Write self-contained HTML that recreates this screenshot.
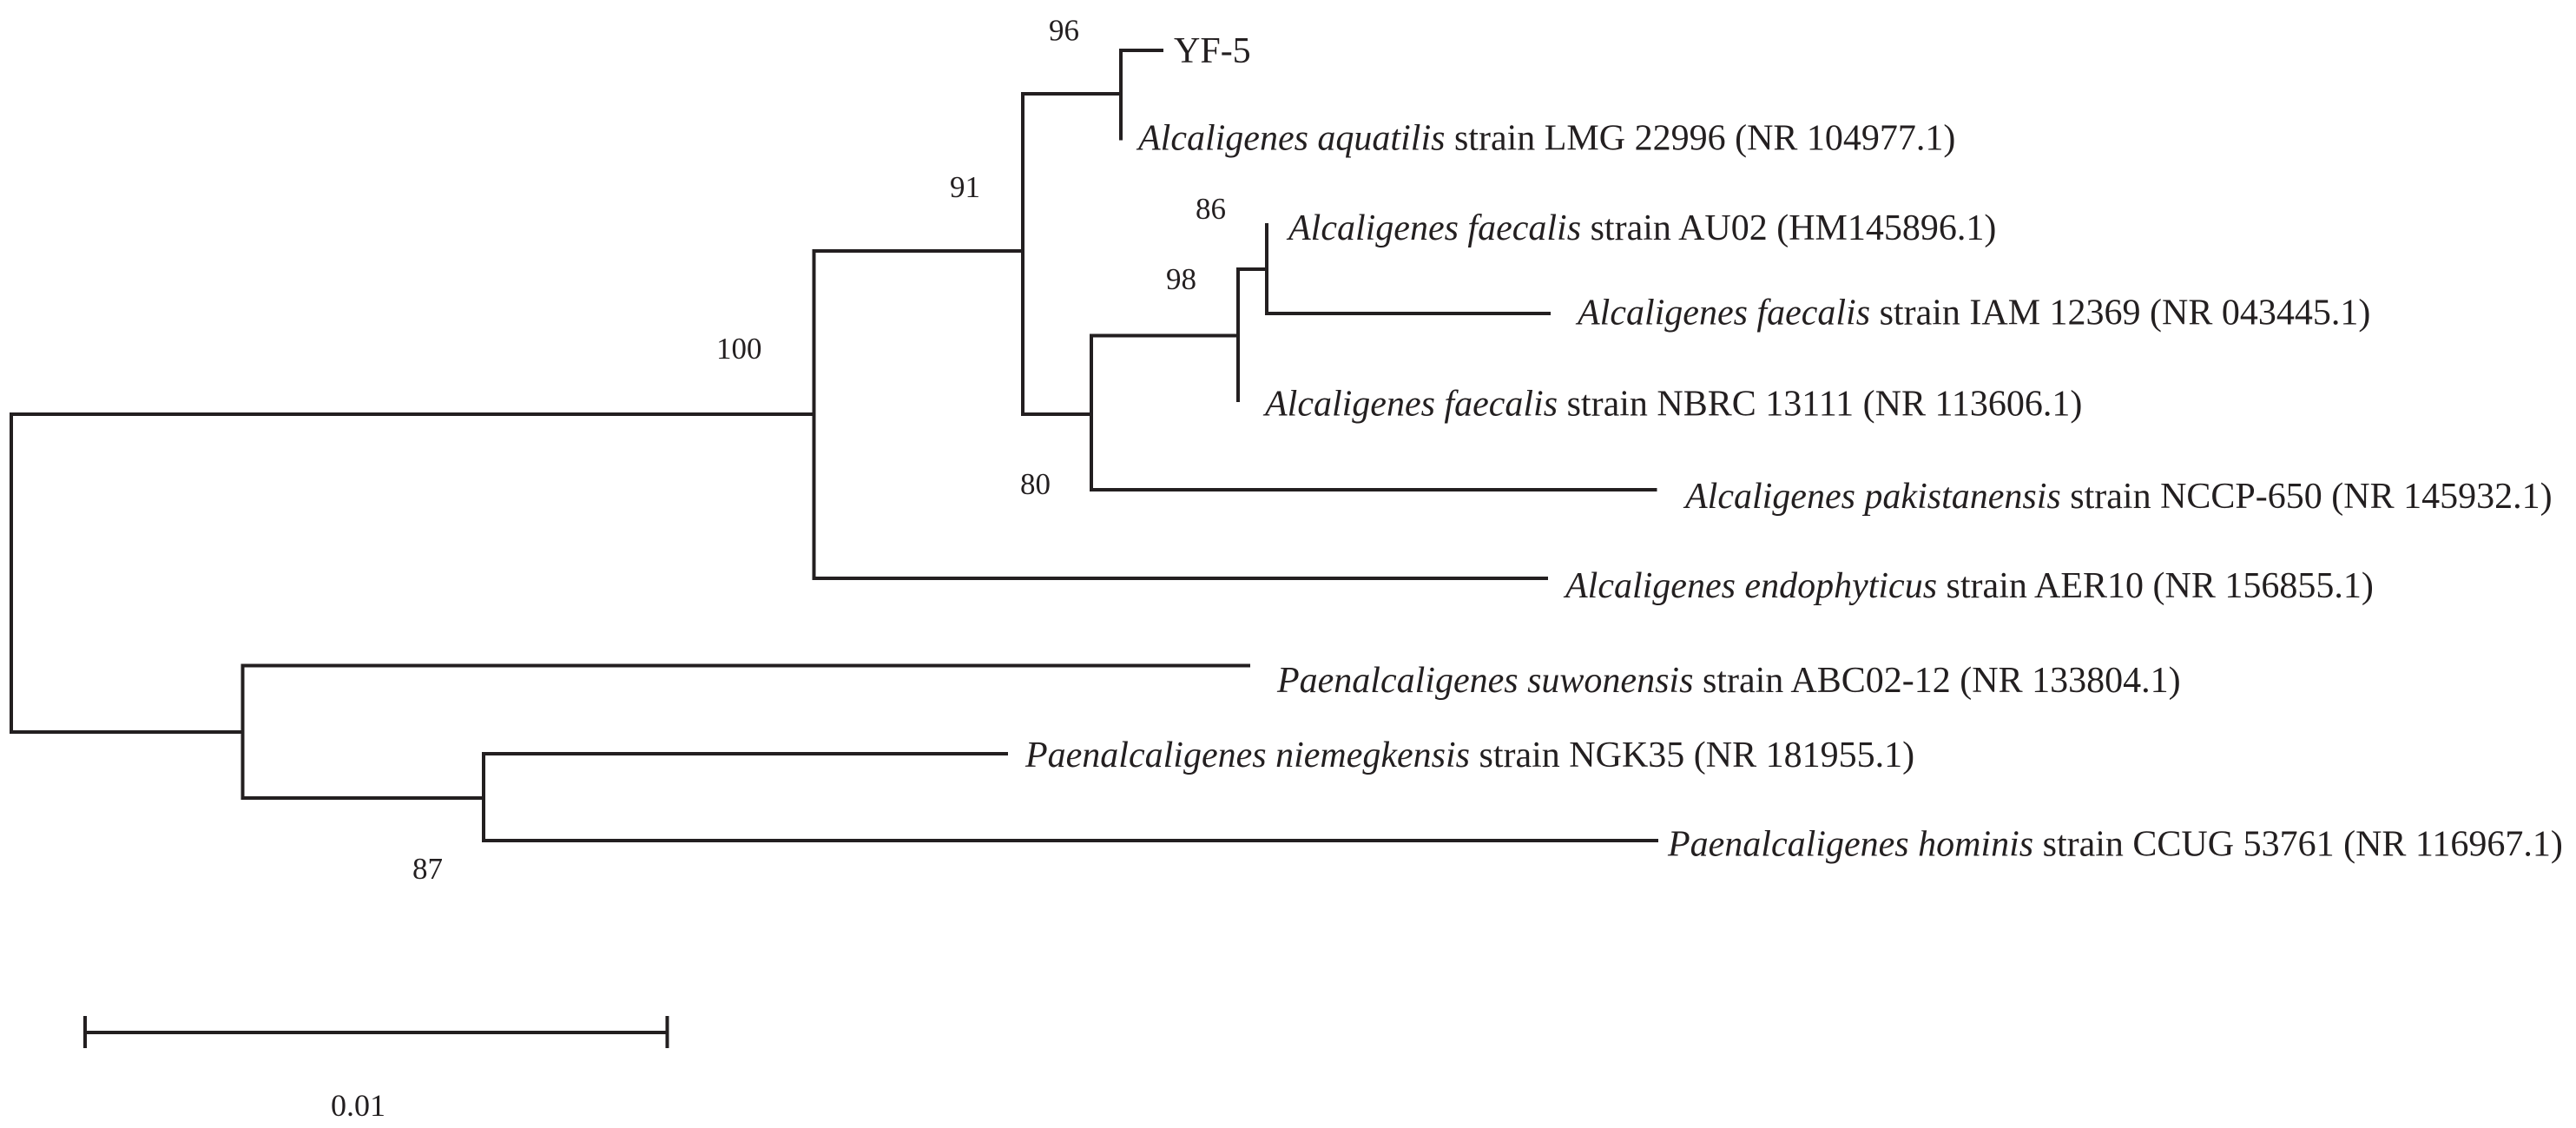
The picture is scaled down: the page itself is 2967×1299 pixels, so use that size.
<!DOCTYPE html>
<html>
<head>
<meta charset="utf-8">
<style>
  html, body { margin: 0; padding: 0; background: #ffffff; }
  body { width: 2967px; height: 1299px; overflow: hidden; }
  svg { display: block; }
  text { font-family: "Liberation Serif", "Times New Roman", serif; fill: #231f20; }
  .leaf { font-size: 42px; }
  .boot { font-size: 35px; }
  .it { font-style: italic; }
</style>
</head>
<body>
<svg width="2967" height="1299" viewBox="0 0 2967 1299" xmlns="http://www.w3.org/2000/svg">
  <g fill="none" stroke="#231f20" stroke-width="4" stroke-linejoin="miter" stroke-linecap="butt">
    <!-- root -->
    <polyline points="937.5,477 13,477 13,843 279.5,843"/>
    <!-- node 100 -->
    <polyline points="1178,289 937.5,289 937.5,666 1783,666"/>
    <!-- node 91 -->
    <polyline points="1291,108 1178,108 1178,477 1257,477"/>
    <!-- node 96 -->
    <polyline points="1340,58 1291,58 1291,161.5"/>
    <!-- node 80 -->
    <polyline points="1426,386.5 1257,386.5 1257,564 1908.5,564"/>
    <!-- node 98 -->
    <polyline points="1459,310 1426,310 1426,463"/>
    <!-- node 86 -->
    <polyline points="1459,257 1459,361 1786,361"/>
    <!-- Paenalcaligenes node -->
    <polyline points="1440,766.5 279.5,766.5 279.5,919 557,919"/>
    <!-- node 87 -->
    <polyline points="1161,868 557,868 557,968 1910,968"/>
    <!-- scale bar -->
    <line x1="98" y1="1189" x2="768.5" y2="1189"/>
    <line x1="98" y1="1170" x2="98" y2="1207"/>
    <line x1="768.5" y1="1170" x2="768.5" y2="1207"/>
  </g>

  <!-- bootstrap values -->
  <text class="boot" x="1208" y="46.5">96</text>
  <text class="boot" x="1094" y="227">91</text>
  <text class="boot" x="1377" y="252">86</text>
  <text class="boot" x="1343" y="333">98</text>
  <text class="boot" x="825" y="413">100</text>
  <text class="boot" x="1175" y="569">80</text>
  <text class="boot" x="475" y="1012">87</text>
  <text class="boot" x="381" y="1285" style="font-size:36px">0.01</text>

  <!-- leaf labels -->
  <text class="leaf" x="1352" y="72">YF-5</text>
  <text class="leaf" x="1311" y="172.5"><tspan class="it">Alcaligenes aquatilis</tspan> strain LMG 22996 (NR 104977.1)</text>
  <text class="leaf" x="1484" y="276"><tspan class="it">Alcaligenes faecalis</tspan> strain AU02 (HM145896.1)</text>
  <text class="leaf" x="1817" y="373.5"><tspan class="it">Alcaligenes faecalis</tspan> strain IAM 12369 (NR 043445.1)</text>
  <text class="leaf" x="1457" y="478.5"><tspan class="it">Alcaligenes faecalis</tspan> strain NBRC 13111 (NR 113606.1)</text>
  <text class="leaf" x="1941" y="585"><tspan class="it">Alcaligenes pakistanensis</tspan> strain NCCP-650 (NR 145932.1)</text>
  <text class="leaf" x="1803" y="688"><tspan class="it">Alcaligenes endophyticus</tspan> strain AER10 (NR 156855.1)</text>
  <text class="leaf" x="1471" y="797"><tspan class="it">Paenalcaligenes suwonensis</tspan> strain ABC02-12 (NR 133804.1)</text>
  <text class="leaf" x="1181" y="883"><tspan class="it">Paenalcaligenes niemegkensis</tspan> strain NGK35 (NR 181955.1)</text>
  <text class="leaf" x="1921" y="985.5"><tspan class="it">Paenalcaligenes hominis</tspan> strain CCUG 53761 (NR 116967.1)</text>
</svg>
</body>
</html>
